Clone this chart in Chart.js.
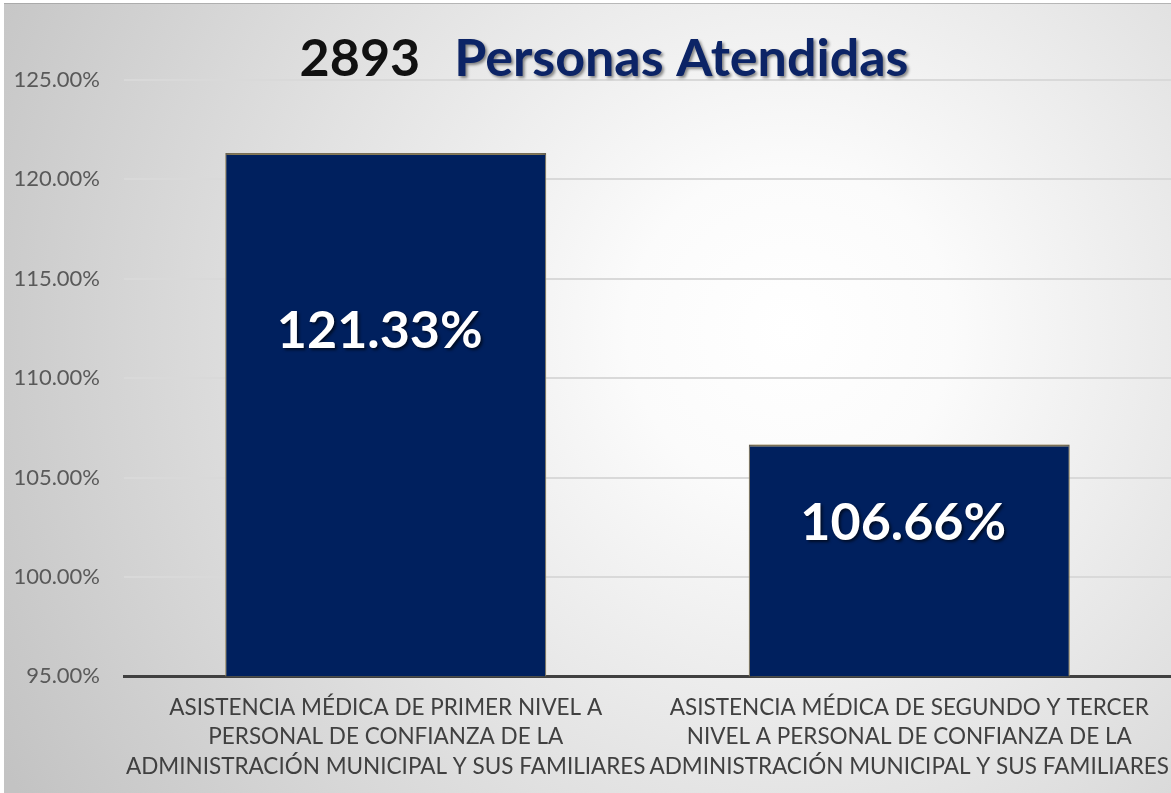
<!DOCTYPE html>
<html><head><meta charset="utf-8">
<script src="https://cdn.jsdelivr.net/npm/chart.js@4.4.1/dist/chart.umd.min.js"></script>
<style>html,body{margin:0;padding:0;background:#fff;}#wrap{width:1171px;height:793px;}</style>
</head><body><div id="wrap"><canvas id="c" width="1171" height="793"></canvas></div>
<script>
const categories = [
  ["ASISTENCIA MÉDICA DE PRIMER NIVEL A", "PERSONAL DE CONFIANZA DE LA", "ADMINISTRACIÓN MUNICIPAL Y SUS FAMILIARES"],
  ["ASISTENCIA MÉDICA DE SEGUNDO Y TERCER", "NIVEL A PERSONAL DE CONFIANZA DE LA", "ADMINISTRACIÓN MUNICIPAL Y SUS FAMILIARES"]
];
const values = [121.33, 106.66];
const titleCount = "2893";
const titleText = "Personas Atendidas";
const yMin = 95, yMax = 125, yStep = 5;

const bgPlugin = {
  id: 'bg',
  beforeDraw(chart) {
    const ctx = chart.ctx, w = chart.width, h = chart.height;
    ctx.save();
    ctx.fillStyle = '#ffffff';
    ctx.fillRect(0, 0, w, h);
    const g = ctx.createRadialGradient(790, 330, 0, 790, 330, 900);
    g.addColorStop(0, '#ffffff');
    g.addColorStop(0.18, '#fbfbfb');
    g.addColorStop(0.55, '#e2e2e2');
    g.addColorStop(1, '#c3c3c3');
    ctx.fillStyle = g;
    ctx.fillRect(4, 3, w - 4, h - 3);
    ctx.fillStyle = 'rgba(150,150,150,0.6)';
    ctx.fillRect(4, 3, w - 4, 1);
    ctx.restore();
  }
};

const titlePlugin = {
  id: 'title2',
  afterDraw(chart) {
    const ctx = chart.ctx;
    ctx.save();
    ctx.font = 'bold 52px Lato';
    ctx.textBaseline = 'alphabetic';
    const gap = 34;
    const w1 = ctx.measureText(titleCount).width;
    const w2 = ctx.measureText(titleText).width;
    const total = w1 + gap + w2;
    const x0 = 604 - total / 2;
    const y = 76;
    ctx.fillStyle = '#111111';
    ctx.fillText(titleCount, x0, y);
    ctx.shadowColor = 'rgba(0,0,0,0.45)';
    ctx.shadowOffsetX = 2; ctx.shadowOffsetY = 2; ctx.shadowBlur = 3;
    ctx.fillStyle = '#0c2466';
    ctx.fillText(titleText, x0 + w1 + gap, y);
    ctx.restore();
  }
};

const glowPlugin = {
  id: 'glow',
  beforeDatasetDraw(chart) {
    const ctx = chart.ctx;
    ctx.save();
    ctx.shadowColor = 'rgba(240,200,90,0.8)';
    ctx.shadowBlur = 7;
  },
  afterDatasetDraw(chart) { chart.ctx.restore(); }
};

const labelPlugin = {
  id: 'vals',
  afterDatasetsDraw(chart) {
    const ctx = chart.ctx;
    const meta = chart.getDatasetMeta(0);
    const yScale = chart.scales.y;
    const base = yScale.getPixelForValue(yMin);
    ctx.save();
    ctx.font = 'bold 52px Lato';
    ctx.textAlign = 'center';
    ctx.textBaseline = 'middle';
    ctx.fillStyle = '#ffffff';
    ctx.shadowColor = 'rgba(0,0,0,0.6)';
    ctx.shadowOffsetX = 2; ctx.shadowOffsetY = 2; ctx.shadowBlur = 3;
    meta.data.forEach((bar, i) => {
      const y = bar.y + (base - bar.y) * 0.34;
      ctx.fillText(values[i].toFixed(2) + '%', bar.x - 6, y);
    });
    ctx.restore();
  }
};

new Chart(document.getElementById('c'), {
  type: 'bar',
  data: {
    labels: categories,
    datasets: [{
      data: values,
      backgroundColor: '#00205e',
      borderColor: '#555555',
      borderWidth: {top: 2, left: 1, right: 1, bottom: 0},
      borderSkipped: 'bottom',
      barPercentage: 1,
      categoryPercentage: 0.613
    }]
  },
  options: {
    responsive: false,
    animation: false,
    devicePixelRatio: 1,
    layout: {padding: {top: 80, right: 0, left: 0, bottom: 3}},
    plugins: {legend: {display: false}, title: {display: false}, tooltip: {enabled: false}},
    scales: {
      x: {
        afterFit(scale) { scale.paddingLeft = 0; scale.paddingRight = 0; },
        grid: {display: false},
        border: {display: true, color: '#404040', width: 3},
        ticks: {
          color: '#404040',
          font: {family: 'Lato', size: 22.5, lineHeight: 1.3},
          padding: 9,
          maxRotation: 0,
          autoSkip: false
        }
      },
      y: {
        min: yMin, max: yMax,
        afterFit(scale) { scale.width = 124; },
        grid: {color: '#d9d9d9', lineWidth: 2, drawTicks: false},
        border: {display: false},
        ticks: {
          stepSize: yStep,
          color: '#595959',
          font: {family: 'Lato', size: 22},
          padding: 24,
          callback: v => v.toFixed(2) + '%'
        }
      }
    }
  },
  plugins: [bgPlugin, glowPlugin, labelPlugin, titlePlugin]
});
</script>
</body></html>
